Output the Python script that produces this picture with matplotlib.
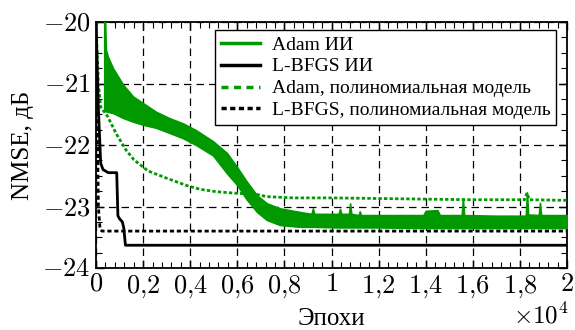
import matplotlib
matplotlib.use("Agg")
import matplotlib.pyplot as plt
from matplotlib.ticker import MultipleLocator, FixedLocator, FixedFormatter
from matplotlib.lines import Line2D

plt.rcParams['font.family'] = ['Liberation Serif', 'DejaVu Serif']
plt.rcParams['mathtext.fontset'] = 'cm'

GREEN = '#009900'

# Adam ИИ (noisy band: upper / lower envelopes)
adam_nn_x = [350, 420, 500, 720, 1150, 1570, 2000, 2550, 3100, 3700, 4250, 4970,
             5560, 5990, 6410, 6840, 7260, 7810, 8660, 9150, 9210, 9270, 10300,
             10360, 10420, 10740, 10790, 10840, 11150, 11200, 11250, 12000, 13900,
             14000, 14500, 14600, 15530, 15580, 15630, 17000, 18250, 18300, 18350,
             18800, 18850, 18900, 20000]
adam_nn_hi = [-19.5, -20.45, -20.56, -20.75, -21.02, -21.21, -21.32, -21.46, -21.56, -21.65,
              -21.76, -21.94, -22.13, -22.36, -22.60, -22.82, -22.95, -23.03, -23.09, -23.12,
              -23.03, -23.12, -23.12, -23.04, -23.12, -23.12, -22.95, -23.12, -23.14, -23.08,
              -23.14, -23.14, -23.14, -23.07, -23.06, -23.14, -23.14, -22.87, -23.14, -23.15,
              -23.15, -22.77, -23.13, -23.14, -22.94, -23.14, -23.14]
adam_nn_lo = [-21.45, -21.45, -21.46, -21.48, -21.56, -21.62, -21.67, -21.72, -21.80, -21.89,
              -22.00, -22.17, -22.46, -22.65, -22.89, -23.09, -23.22, -23.30, -23.33, -23.33,
              -23.33, -23.33, -23.34, -23.34, -23.34, -23.34, -23.34, -23.34, -23.34, -23.34,
              -23.34, -23.34, -23.35, -23.35, -23.35, -23.35, -23.35, -23.35, -23.35, -23.35,
              -23.35, -23.35, -23.35, -23.35, -23.35, -23.35, -23.35]

# L-BFGS ИИ
lbfgs_nn_x = [0, 100, 200, 300, 520, 880, 930, 1000, 1120, 1180, 1250, 20000]
lbfgs_nn_y = [-20.0, -21.4, -22.3, -22.40, -22.45, -22.45, -23.15, -23.20, -23.25, -23.35, -23.63, -23.63]

# Adam, полиномиальная модель
adam_poly_x = [0, 100, 200, 500, 850, 1270, 1610, 2200, 3000, 3860, 4420, 5130, 6110,
               6540, 7250, 8370, 10000, 12000, 14000, 16000, 18200, 18300, 18400, 20000]
adam_poly_y = [-20.0, -21.0, -21.38, -21.54, -21.81, -22.08, -22.24, -22.42, -22.54, -22.66,
               -22.72, -22.76, -22.79, -22.78, -22.84, -22.86, -22.86, -22.87, -22.88,
               -22.89, -22.89, -22.78, -22.89, -22.90]

# L-BFGS, полиномиальная модель
lbfgs_poly_x = [0, 50, 100, 170, 250, 20000]
lbfgs_poly_y = [-20.0, -21.5, -23.0, -23.36, -23.40, -23.40]

labels = ['Adam ИИ', 'L-BFGS ИИ', 'Adam, полиномиальная модель', 'L-BFGS, полиномиальная модель']
xticks = [0, 2000, 4000, 6000, 8000, 10000, 12000, 14000, 16000, 18000, 20000]
xticklabels = ['$0$', '$0{,}2$', '$0{,}4$', '$0{,}6$', '$0{,}8$', '$1$', '$1{,}2$',
               '$1{,}4$', '$1{,}6$', '$1{,}8$', '$2$']
yticks = [-24, -23, -22, -21, -20]
yticklabels = ['$-24$', '$-23$', '$-22$', '$-21$', '$-20$']

fig = plt.figure(figsize=(5.75, 3.3), dpi=100)
ax = fig.add_axes([96/575, 62/330, 471/575, 246/330])

ax.fill_between(adam_nn_x, adam_nn_lo, adam_nn_hi, color=GREEN, lw=1.2, zorder=3)
ax.plot(lbfgs_nn_x, lbfgs_nn_y, color='black', lw=2.0, zorder=4)
ax.plot(adam_poly_x, adam_poly_y, color=GREEN, lw=2.0, dashes=(1.2, 0.8), zorder=3)
ax.plot(lbfgs_poly_x, lbfgs_poly_y, color='black', lw=2.0, dashes=(1.5, 1.0), zorder=4)

ax.set_xlim(0, 20000)
ax.set_ylim(-24, -20)
ax.xaxis.set_major_locator(FixedLocator(xticks))
ax.xaxis.set_major_formatter(FixedFormatter(xticklabels))
ax.xaxis.set_minor_locator(MultipleLocator(400))
ax.yaxis.set_major_locator(FixedLocator(yticks))
ax.yaxis.set_major_formatter(FixedFormatter(yticklabels))
ax.yaxis.set_minor_locator(MultipleLocator(0.25))
ax.tick_params(which='both', direction='in', top=True, right=True, labelsize=19)
ax.tick_params(which='major', length=6, width=1.0, pad=4)
ax.tick_params(which='minor', length=4, width=0.8)
for s in ax.spines.values():
    s.set_linewidth(1.3)

ax.grid(True, which='major', color='black', lw=0.9, linestyle=(0, (6, 4)))

ax.set_xlabel('Эпохи', fontsize=18, labelpad=6)
ax.set_ylabel('NMSE, дБ', fontsize=18, labelpad=6)
ax.text(1.005, -0.14, r'$\times10^{4}$', transform=ax.transAxes, ha='right', va='top', fontsize=18)

handles = [Line2D([], [], color=GREEN, lw=2.5),
           Line2D([], [], color='black', lw=2.5),
           Line2D([], [], color=GREEN, lw=2.5, dashes=(2.0, 1.6)),
           Line2D([], [], color='black', lw=2.5, dashes=(1.5, 1.0))]
leg = ax.legend(handles, labels, loc='upper right', bbox_to_anchor=(0.977, 0.967),
                borderaxespad=0, fontsize=14, fancybox=False, framealpha=1,
                edgecolor='black', handlelength=2.0, labelspacing=0.22,
                borderpad=0.3, handletextpad=0.6)
leg.get_frame().set_linewidth(1.0)
leg.set_zorder(10)

fig.savefig('out.png', dpi=100)
